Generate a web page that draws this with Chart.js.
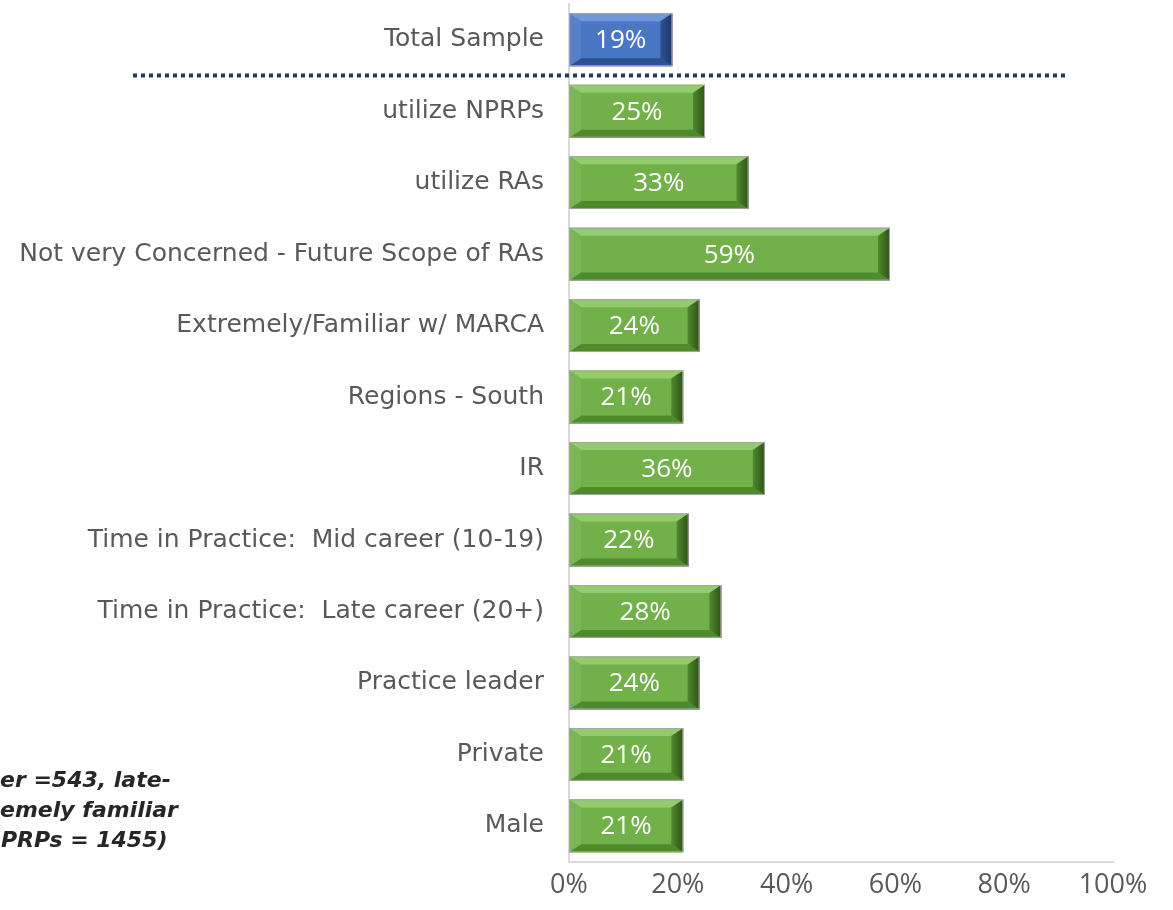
<!DOCTYPE html>
<html>
<head>
<meta charset="utf-8">
<script src="https://cdn.jsdelivr.net/npm/chart.js@4.4.1/dist/chart.umd.min.js"></script>
<style>
  html, body { margin: 0; padding: 0; background: #fff; }
  #wrap { position: relative; width: 1173px; height: 910px; }
</style>
</head>
<body>
<div id="wrap"><canvas id="myChart"></canvas></div>
<script>
const categories = ['Total Sample', 'utilize NPRPs', 'utilize RAs', 'Not very Concerned - Future Scope of RAs',
  'Extremely/Familiar w/ MARCA', 'Regions - South', 'IR', 'Time in Practice:  Mid career (10-19)',
  'Time in Practice:  Late career (20+)', 'Practice leader', 'Private', 'Male'];
const values = [19, 25, 33, 59, 24, 21, 36, 22, 28, 24, 21, 21];
const tickValues = [0, 20, 40, 60, 80, 100];
const noteLines = ['er =543, late-', 'emely familiar', 'PRPs = 1455)'];

const FONT = "'DejaVu Sans', sans-serif";
const NUM_FONT = "'Liberation Sans Narrow', 'Open Sans', sans-serif";

// colours for blue (total) and green bars: face, top, bottom, left, right
const blue = { face: '#4A76C6', top: '#7097DA', bottom: '#2E5194', left: '#5580CC', right: '#1E3666' };
const green = { face: '#72B04A', top: '#93CC6C', bottom: '#4F8A2D', left: '#7AB752', right: '#2F5218' };

const bevelPlugin = {
  id: 'bevel',
  afterDatasetsDraw(chart) {
    const ctx = chart.ctx;
    const meta = chart.getDatasetMeta(0);
    meta.data.forEach((bar, i) => {
      const p = bar.getProps(['x', 'y', 'base', 'height'], true);
      const L = p.base, R = p.x, T = p.y - p.height / 2, B = p.y + p.height / 2;
      const c = i === 0 ? blue : green;
      const bx = 12, by = 8;
      ctx.save();
      const poly = (pts, fill) => {
        ctx.beginPath();
        ctx.moveTo(pts[0][0], pts[0][1]);
        for (let k = 1; k < pts.length; k++) ctx.lineTo(pts[k][0], pts[k][1]);
        ctx.closePath();
        ctx.fillStyle = fill;
        ctx.fill();
      };
      poly([[L, T], [R, T], [R - bx, T + by], [L + bx, T + by]], c.top);
      poly([[L, B], [R, B], [R - bx, B - by], [L + bx, B - by]], c.bottom);
      poly([[L, T], [L + bx, T + by], [L + bx, B - by], [L, B]], c.left);
      const g = ctx.createLinearGradient(R - bx, 0, R, 0);
      g.addColorStop(0, c.bottom);
      g.addColorStop(1, c.right);
      poly([[R, T], [R, B], [R - bx, B - by], [R - bx, T + by]], g);
      ctx.strokeStyle = '#A6A6A6';
      ctx.lineWidth = 1;
      ctx.strokeRect(L + 0.5, T + 0.5, R - L - 1, B - T - 1);
      // value label
      ctx.fillStyle = '#FFFFFF';
      ctx.font = '26px ' + NUM_FONT;
      ctx.textAlign = 'center';
      ctx.textBaseline = 'middle';
      ctx.fillText(values[i] + '%', (L + R) / 2, p.y + 1);
      ctx.restore();
    });

    // dotted separator under the total sample
    const y = chart.scales.y.getPixelForValue(0.5);
    ctx.save();
    ctx.strokeStyle = '#1F3864';
    ctx.lineWidth = 4;
    ctx.setLineDash([4, 4]);
    ctx.beginPath();
    ctx.moveTo(133, y);
    ctx.lineTo(chart.scales.x.getPixelForValue(91.2), y);
    ctx.stroke();
    ctx.restore();

    // clipped footnote at lower left
    ctx.save();
    ctx.fillStyle = '#262626';
    ctx.font = 'italic bold 22px ' + FONT;
    ctx.textAlign = 'left';
    ctx.textBaseline = 'middle';
    noteLines.forEach((t, k) => ctx.fillText(t, k === 2 ? 1 : 0, 781 + k * 30));
    ctx.restore();
  }
};

new Chart(document.getElementById('myChart'), {
  type: 'bar',
  data: {
    labels: categories,
    datasets: [{
      data: values,
      backgroundColor: values.map((v, i) => i === 0 ? blue.face : green.face),
      borderWidth: 0,
      categoryPercentage: 1,
      barPercentage: 0.74
    }]
  },
  options: {
    indexAxis: 'y',
    responsive: true,
    maintainAspectRatio: false,
    animation: false,
    layout: { padding: { top: 4, right: 60, bottom: 0, left: 18 } },
    plugins: { legend: { display: false }, tooltip: { enabled: false } },
    scales: {
      x: {
        min: 0, max: 100,
        afterBuildTicks: s => { s.ticks = tickValues.map(v => ({ value: v })); },
        grid: { display: false, drawTicks: false },
        border: { color: '#D9D9D9', width: 2 },
        ticks: { color: '#595959', font: { family: NUM_FONT, size: 27 }, padding: 8, callback: v => v + '%' }
      },
      y: {
        afterFit: s => { s.paddingTop = 0; s.paddingBottom = 0; s.width = 551; },
        grid: { display: false, drawTicks: false },
        border: { color: '#D9D9D9', width: 2 },
        ticks: { color: '#595959', font: { family: FONT, size: 25 }, padding: 25 }
      }
    }
  },
  plugins: [bevelPlugin]
});
</script>
</body>
</html>
